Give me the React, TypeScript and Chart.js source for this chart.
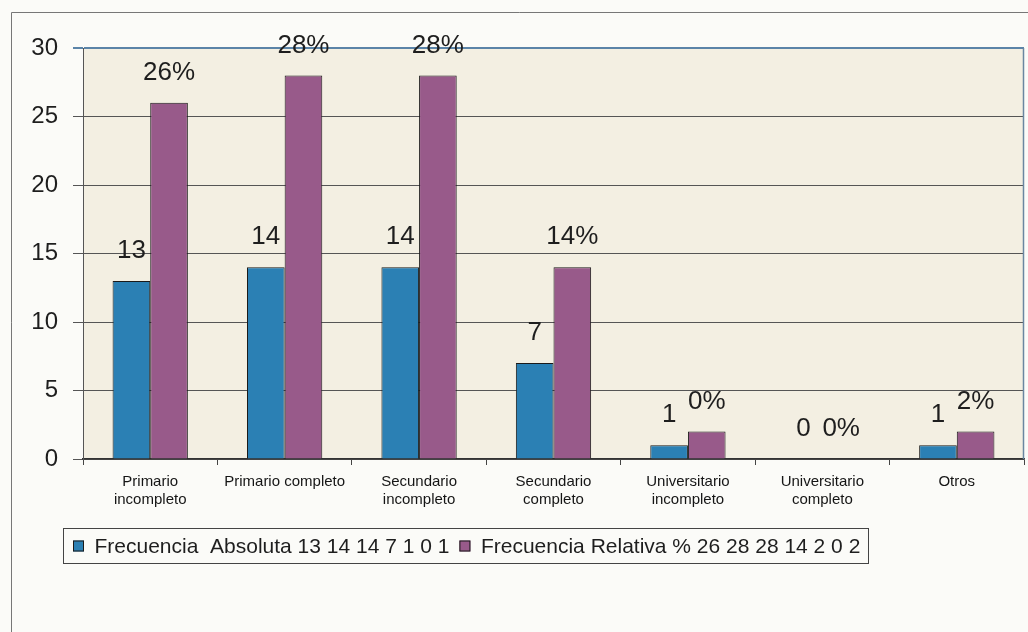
import React, { useEffect, useRef } from "react";
import { Chart, registerables } from "chart.js";

Chart.register(...registerables);

const categories: string[][] = [
  ["Primario", "incompleto"],
  ["Primario completo"],
  ["Secundario", "incompleto"],
  ["Secundario", "completo"],
  ["Universitario", "incompleto"],
  ["Universitario", "completo"],
  ["Otros"],
];
const absoluta: number[] = [13, 14, 14, 7, 1, 0, 1];
const relativa: number[] = [26, 28, 28, 14, 2, 0, 2];
const absolutaLabels: string[] = ["13", "14", "14", "7", "1", "0", "1"];
const relativaLabels: string[] = ["26%", "28%", "28%", "14%", "0%", "0%", "2%"];
const seriesNames: string[] = [
  "Frecuencia  Absoluta 13 14 14 7 1 0 1",
  "Frecuencia Relativa % 26 28 28 14 2 0 2",
];
const seriesColors: string[] = ["#2b80b4", "#985a8a"];
const yMin = 0;
const yMax = 30;
const yStep = 5;

const FONT = 'Arial, "Liberation Sans", sans-serif';

const backgroundPlugin = {
  id: "bgPlugin",
  beforeDraw(chart: any) {
    const { ctx, chartArea, width, height } = chart;
    ctx.save();
    ctx.fillStyle = "#fbfbf8";
    ctx.fillRect(0, 0, width, height);
    ctx.fillStyle = "#f3efe2";
    ctx.fillRect(chartArea.left, chartArea.top, chartArea.right - chartArea.left, chartArea.bottom - chartArea.top);
    ctx.strokeStyle = "#777";
    ctx.lineWidth = 1;
    ctx.beginPath();
    ctx.moveTo(11.5, height);
    ctx.lineTo(11.5, 12.5);
    ctx.lineTo(width, 12.5);
    ctx.stroke();
    ctx.restore();
  },
  afterDraw(chart: any) {
    const { ctx, chartArea } = chart;
    ctx.save();
    ctx.strokeStyle = "#6a86a0";
    ctx.lineWidth = 1.5;
    ctx.beginPath();
    ctx.moveTo(chartArea.right - 0.5, chartArea.top);
    ctx.lineTo(chartArea.right - 0.5, chartArea.bottom);
    ctx.stroke();

    // legend (drawn from the dataset labels / colours)
    const fontSize = 21;
    ctx.font = `${fontSize}px ${FONT}`;
    ctx.textBaseline = "middle";
    ctx.textAlign = "left";
    const cy = chartArea.bottom + 87;
    let x = chartArea.left - 10;
    const startX = x;
    const box = 11;
    chart.data.datasets.forEach((ds: any) => {
      ctx.fillStyle = ds.backgroundColor;
      ctx.fillRect(x, cy - box / 2, box, box);
      ctx.strokeStyle = "#1a1a1a";
      ctx.lineWidth = 1;
      ctx.strokeRect(x + 0.5, cy - box / 2 + 0.5, box - 1, box - 1);
      x += box + fontSize / 2;
      ctx.fillStyle = "#1e1e1e";
      ctx.fillText(ds.label, x, cy + 1);
      x += ctx.measureText(ds.label).width + 10;
    });
    const x0 = Math.round(startX - 10) + 0.5;
    const x1 = Math.round(x - 2) + 0.5;
    ctx.strokeStyle = "#444";
    ctx.strokeRect(x0, Math.round(cy - 18) + 0.5, x1 - x0, 35);
    ctx.restore();
  },
};

const labelPlugin = {
  id: "barLabels",
  afterDatasetsDraw(chart: any) {
    const { ctx } = chart;
    const sets = [absolutaLabels, relativaLabels];
    ctx.save();
    ctx.font = `26px ${FONT}`;
    ctx.fillStyle = "#1e1e1e";
    ctx.textAlign = "center";
    ctx.textBaseline = "middle";
    chart.data.datasets.forEach((_: any, di: number) => {
      const meta = chart.getDatasetMeta(di);
      meta.data.forEach((bar: any, i: number) => {
        ctx.fillText(sets[di][i], bar.x, bar.y - 30);
      });
    });
    ctx.restore();
  },
};

export default function App() {
  const ref = useRef<HTMLCanvasElement>(null);
  useEffect(() => {
    document.body.style.margin = "0";
    const chart = new Chart(ref.current as HTMLCanvasElement, {
      type: "bar",
      data: {
        labels: categories,
        datasets: [
          {
            label: seriesNames[0],
            data: absoluta,
            backgroundColor: seriesColors[0],
            borderColor: "#1a1a1a",
            borderWidth: 1,
            categoryPercentage: 0.56,
            barPercentage: 1,
          },
          {
            label: seriesNames[1],
            data: relativa,
            backgroundColor: seriesColors[1],
            borderColor: "#1a1a1a",
            borderWidth: 1,
            categoryPercentage: 0.56,
            barPercentage: 1,
          },
        ],
      },
      options: {
        animation: false,
        responsive: false,
        maintainAspectRatio: false,
        layout: { padding: { left: 0, right: 4, top: 48, bottom: 106 } },
        plugins: {
          legend: { display: false },
          tooltip: { enabled: false },
        },
        scales: {
          x: {
            grid: {
              offset: true,
              drawOnChartArea: false,
              drawTicks: true,
              tickLength: 6,
              color: "#444",
            },
            border: { display: true, color: "#333", width: 1.5 },
            ticks: {
              color: "#151515",
              padding: 8,
              maxRotation: 0,
              autoSkip: false,
              font: { family: FONT, size: 15 },
            },
            afterFit(scale: any) {
              scale.height = 67;
            },
          } as any,
          y: {
            min: yMin,
            max: yMax,
            grid: {
              color: (c: any) => (c.tick && c.tick.value === yMax ? "#5b84a8" : "#555"),
              lineWidth: (c: any) => (c.tick && c.tick.value === yMax ? 2 : 1),
              tickLength: 10,
            },
            border: { display: true, color: "#555", width: 1 },
            ticks: {
              stepSize: yStep,
              autoSkip: false,
              color: "#1e1e1e",
              padding: 15,
              font: { family: FONT, size: 24 },
            },
            afterFit(scale: any) {
              scale.width = 83;
            },
          } as any,
        },
      },
      plugins: [backgroundPlugin, labelPlugin],
    });
    return () => chart.destroy();
  }, []);
  return (
    <div style={{ width: 1028, height: 632 }}>
      <canvas ref={ref} width={1028} height={632} style={{ display: "block" }} />
    </div>
  );
}
